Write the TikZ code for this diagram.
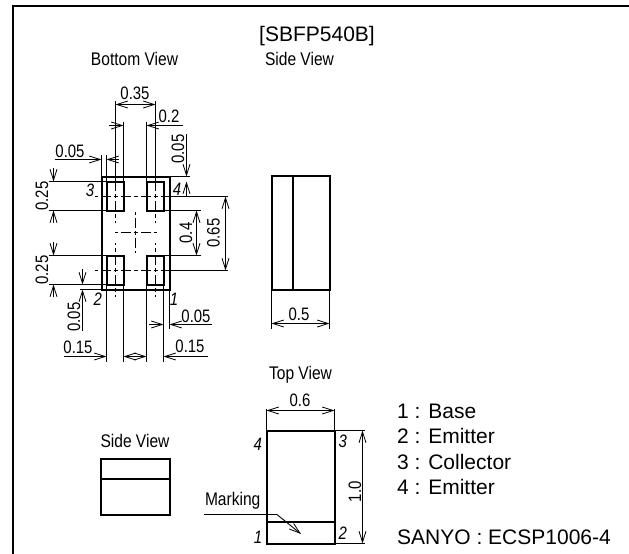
\documentclass[tikz,border=0pt]{standalone}
\usepackage{fontspec}
\setmainfont{Liberation Sans}
\newfontfamily\narrowfont[FakeStretch=0.83]{Liberation Sans}
\newfontfamily\viewfont[FakeStretch=0.85]{Liberation Sans}
\usetikzlibrary{arrows.meta}
\tikzset{
  pkgbody/.style={draw=black,line width=2pt},
  hairline/.style={draw=black,line width=0.9pt},
  dimline/.style={hairline,{Straight Barb[length=11pt,width=7pt,line width=0.8pt]}-{Straight Barb[length=11pt,width=7pt,line width=0.8pt]}},
  leadline/.style={hairline,-{Straight Barb[length=11pt,width=7pt,line width=0.8pt]}},
  axisline/.style={hairline,dash pattern=on 4pt off 3pt on 10pt off 3pt,dash phase=2pt},
  lab/.style={font=\narrowfont\fontsize{18}{18}\selectfont,inner sep=0pt,text=black},
  viewlab/.style={font=\viewfont\fontsize{18.3}{18}\selectfont,inner sep=0pt,text=black},
  pin/.style={font=\narrowfont\itshape\fontsize{18}{18}\selectfont,inner sep=0pt,text=black},
  big/.style={font=\fontsize{21}{21}\selectfont,inner sep=0pt,anchor=west,text=black},
}
\begin{document}
\begin{tikzpicture}[x=1pt,y=-1pt]
\useasboundingbox (0,0) rectangle (629,554);
% frame
\draw[line width=2pt] (13,554) -- (13,6) -- (629,6);
% titles
\node[big,anchor=center] (title) at (317,36) {[SBFP540B]};
\node[viewlab] (bv) at (134.5,59) {Bottom View};
\node[viewlab] (sv1) at (299.5,59) {Side View};
\node[viewlab] (tv) at (300.5,375) {Top View};
\node[viewlab] (sv2) at (135,441) {Side View};
% --- bottom view ---
\draw[hairline] (115.5,101) -- (115.5,181.5);
\draw[hairline] (155.5,101) -- (155.5,181.5);
\draw[hairline] (123.5,122) -- (123.5,181.5);
\draw[hairline] (146.5,122) -- (146.5,181.5);
\draw[hairline] (101.5,155) -- (101.5,176.5);
\draw[hairline] (106.5,155) -- (106.5,181.5);
% centre lines
\foreach \cx in {115.5,155.5}{
  \draw[axisline] (\cx,196) -- (\cx,181.7);
  \draw[axisline] (\cx,196) -- (\cx,222.7);
  \draw[axisline] (\cx,270) -- (\cx,243);
  \draw[axisline] (\cx,270) -- (\cx,296.7);
}
\foreach \cy in {196.5,270.5}{
  \draw[axisline] (135.5,\cy) -- (95,\cy);
  \draw[axisline] (135.5,\cy) -- (169,\cy);
}
\draw[axisline] (135.5,232.5) -- (115,232.5);
\draw[axisline] (135.5,232.5) -- (156.7,232.5);
\draw[axisline] (135.5,232.5) -- (135.5,211.7);
\draw[axisline] (135.5,232.5) -- (135.5,253.3);
\draw[pkgbody] (101.5,176.5) rectangle (169.5,289.5);
\draw[pkgbody] (106.5,181.5) rectangle (123.5,210.5);
\draw[pkgbody] (146.5,181.5) rectangle (163.5,210.5);
\draw[pkgbody] (106.5,255.5) rectangle (123.5,284.5);
\draw[pkgbody] (146.5,255.5) rectangle (163.5,284.5);
% 0.35
\draw[dimline] (115.5,104.5) -- (155.5,104.5);
\node[lab] (d035) at (135,93) {0.35};
% 0.2
\draw[leadline] (108.7,125.5) -- (123.5,125.5);
\draw[leadline] (182.7,125.5) -- (146.5,125.5);
\node[lab] (d02) at (169,116) {0.2};
% 0.05 top-left
\draw[leadline] (55,159.5) -- (101.5,159.5);
\draw[leadline] (119,159.5) -- (106.5,159.5);
\node[lab] (d005a) at (70,151.5) {0.05};
% 0.05 top-right
\draw[hairline] (169.5,176.5) -- (190,176.5);
\draw[leadline] (186.5,134) -- (186.5,176.5);
\draw[leadline] (186.5,196.5) -- (186.5,181.5);
\node[lab,rotate=90] (d005b) at (178,149) {0.05};
% 0.25 top
\draw[hairline] (49,181.5) -- (106.5,181.5);
\draw[hairline] (49,210.5) -- (106.5,210.5);
\draw[leadline] (53.5,168) -- (53.5,181.5);
\draw[leadline] (53.5,222.7) -- (53.5,210.5);
\node[lab,rotate=90] (d025a) at (42,196) {0.25};
% 0.25 bottom
\draw[hairline] (49,255.5) -- (106.5,255.5);
\draw[hairline] (49,284.5) -- (106.5,284.5);
\draw[leadline] (53.5,242) -- (53.5,255.5);
\draw[leadline] (53.5,297) -- (53.5,284.5);
\node[lab,rotate=90] (d025b) at (42,270) {0.25};
% 0.05 bottom-left
\draw[hairline] (80,289.5) -- (101.5,289.5);
\draw[leadline] (82.5,269) -- (82.5,284.5);
\draw[leadline] (82.5,330.7) -- (82.5,289.5);
\node[lab,rotate=90] (d005c) at (74,317) {0.05};
% 0.4 and 0.65
\draw[hairline] (163.5,210.5) -- (200.7,210.5);
\draw[hairline] (163.5,255.5) -- (200.7,255.5);
\draw[dimline] (196.5,210.5) -- (196.5,255.5);
\node[lab,rotate=90] (d04) at (186,233) {0.4};
\draw[hairline] (169.5,196.5) -- (228,196.5);
\draw[hairline] (169.5,270.5) -- (228,270.5);
\draw[dimline] (225.5,196.5) -- (225.5,270.5);
\node[lab,rotate=90] (d065) at (213.5,233) {0.65};
% lower extension lines
\draw[hairline] (106.5,284.5) -- (106.5,361.7);
\draw[hairline] (123.5,284.5) -- (123.5,361.7);
\draw[hairline] (146.5,284.5) -- (146.5,361.7);
\draw[hairline] (163.5,284.5) -- (163.5,361.7);
\draw[hairline] (169.5,289.5) -- (169.5,329);
% 0.05 bottom-right
\draw[leadline] (149,324.5) -- (163.5,324.5);
\draw[leadline] (212,324.5) -- (169.5,324.5);
\node[lab] (d005d) at (196,316) {0.05};
% 0.15
\draw[leadline] (64,356.5) -- (106.5,356.5);
\draw[leadline] (207.7,356.5) -- (163.5,356.5);
\draw[dimline] (123.5,356.5) -- (146.5,356.5);
\node[lab] (d015a) at (78,347.5) {0.15};
\node[lab] (d015b) at (190,346.5) {0.15};
% pin numbers, bottom view
\node[pin] (p3) at (90,190) {3};
\node[pin] (p4) at (177,189) {4};
\node[pin] (p2) at (97.7,299.5) {2};
\node[pin] (p1) at (174,299.5) {1};
% --- right side view ---
\draw[pkgbody] (271.5,175.5) rectangle (329.5,289.5);
\draw[pkgbody] (292.5,175.5) -- (292.5,289.5);
\draw[hairline] (271.5,289.5) -- (271.5,329);
\draw[hairline] (329.5,289.5) -- (329.5,329);
\draw[dimline] (271.5,323.5) -- (329.5,323.5);
\node[lab] (d05) at (299,314) {0.5};
% --- lower side view ---
\draw[pkgbody] (100.5,458.5) rectangle (169.5,514.5);
\draw[pkgbody] (100.5,478.5) -- (169.5,478.5);
% --- top view ---
\draw[hairline] (266.5,409) -- (266.5,430.5);
\draw[hairline] (334.5,409) -- (334.5,430.5);
\draw[pkgbody] (266.5,430.5) rectangle (334.5,543.5);
\draw[pkgbody] (266.5,521.5) -- (334.5,521.5);
\draw[dimline] (266.5,410.5) -- (334.5,410.5);
\node[lab] (d06) at (300,400) {0.6};
\draw[hairline] (334.5,430.5) -- (365,430.5);
\draw[hairline] (334.5,543.5) -- (365,543.5);
\draw[dimline] (362.5,430.5) -- (362.5,543.5);
\node[lab,rotate=90] (d10) at (355,491.7) {1.0};
\coordinate (mk1) at (204,514.5);
\coordinate (mk2) at (277,514.5);
\coordinate (mk3) at (301,534);
\draw[leadline] (mk1) -- (mk2) -- (mk3);
\node[viewlab] (mk) at (232.7,501) {Marking};
\node[pin] (q4) at (257.7,444) {4};
\node[pin] (q3) at (342.7,441) {3};
\node[pin] (q1) at (258,537.7) {1};
\node[pin] (q2) at (342.7,533.5) {2};
% --- legend ---
\node[big] (l1) at (397,411.5) {1 : Base};
\node[big] (l2) at (397,436) {2 : Emitter};
\node[big] (l3) at (397,462) {3 : Collector};
\node[big] (l4) at (397,487) {4 : Emitter};
\node[big] (l5) at (397,537) {SANYO : ECSP1006-4};
\end{tikzpicture}
\end{document}
